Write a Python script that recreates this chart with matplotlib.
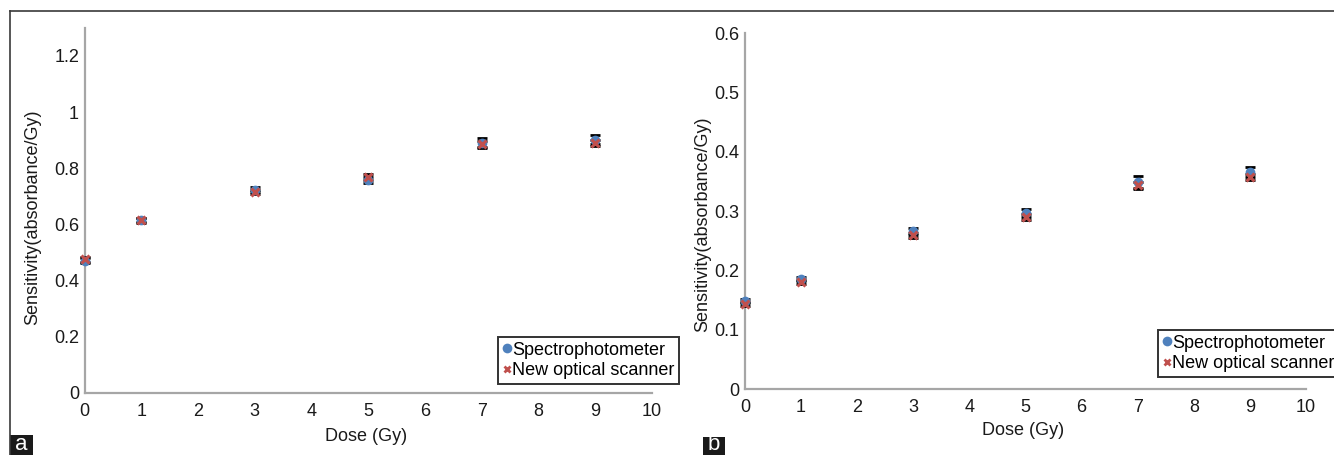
import matplotlib
matplotlib.use("Agg")
import matplotlib.pyplot as plt
from matplotlib.lines import Line2D
from matplotlib.patches import Rectangle

plt.rcParams['font.family'] = ['Liberation Sans', 'DejaVu Sans']

dose = [0, 1, 3, 5, 7, 9]

# Panel a
a_spec = [0.471, 0.614, 0.724, 0.757, 0.891, 0.901]
a_spec_err = [0.008, 0.008, 0.010, 0.010, 0.016, 0.016]
a_scan = [0.475, 0.615, 0.715, 0.768, 0.885, 0.890]
a_scan_err = [0.008, 0.008, 0.008, 0.010, 0.012, 0.010]
a_yticks = [0, 0.2, 0.4, 0.6, 0.8, 1.0, 1.2]
a_yticklabels = ['0', '0.2', '0.4', '0.6', '0.8', '1', '1.2']

# Panel b
b_spec = [0.148, 0.185, 0.266, 0.297, 0.349, 0.366]
b_spec_err = [0.003, 0.003, 0.006, 0.007, 0.010, 0.009]
b_scan = [0.143, 0.180, 0.259, 0.290, 0.343, 0.358]
b_scan_err = [0.003, 0.003, 0.004, 0.005, 0.006, 0.005]
b_yticks = [0, 0.1, 0.2, 0.3, 0.4, 0.5, 0.6]
b_yticklabels = ['0', '0.1', '0.2', '0.3', '0.4', '0.5', '0.6']

xticks = list(range(0, 11))
series_names = ['Spectrophotometer', 'New optical scanner']

BLUE = '#4F81BD'
RED = '#C0504D'
AXC = '#A6A6A6'
FS = 13

W, H = 1334, 455
fig = plt.figure(figsize=(W / 100, H / 100), dpi=100)


def panel(rect, spec, spec_err, scan, scan_err, ylim, yticks, yticklabels,
          ylab_xy, xlab_xy, leg_xy):
    ax = fig.add_axes(rect)
    ax.errorbar(dose, spec, yerr=spec_err, fmt='none', ecolor='black',
                elinewidth=1.2, capsize=3.5, capthick=2, clip_on=False, zorder=3)
    ax.errorbar(dose, scan, yerr=scan_err, fmt='none', ecolor='black',
                elinewidth=1.2, capsize=3.5, capthick=2, clip_on=False, zorder=3)
    ax.plot(dose, spec, 'o', color=BLUE, markersize=7, markeredgewidth=0,
            clip_on=False, zorder=4)
    ax.plot(dose, scan, 'x', color=RED, markersize=5.5, markeredgewidth=2.2,
            clip_on=False, zorder=5)
    ax.set_xlim(0, 10)
    ax.set_ylim(*ylim)
    ax.set_xticks(xticks)
    ax.set_yticks(yticks)
    ax.set_yticklabels(yticklabels)
    for s in ['top', 'right']:
        ax.spines[s].set_visible(False)
    for s in ['left', 'bottom']:
        ax.spines[s].set_color(AXC)
        ax.spines[s].set_linewidth(1.6)
    ax.tick_params(axis='both', length=0, labelsize=FS, colors='#1a1a1a')
    ax.tick_params(axis='x', pad=7.5)
    ax.tick_params(axis='y', pad=4)
    ax.set_ylabel('Sensitivity(absorbance/Gy)', fontsize=FS, color='#1a1a1a')
    ax.yaxis.set_label_coords(*ylab_xy)
    ax.set_xlabel('Dose (Gy)', fontsize=FS, color='#1a1a1a')
    ax.xaxis.set_label_coords(*xlab_xy)
    handles = [Line2D([], [], marker='o', ls='none', color=BLUE, markersize=7,
                      markeredgewidth=0),
               Line2D([], [], marker='x', ls='none', color=RED, markersize=5,
                      markeredgewidth=2)]
    leg = fig.legend(handles, series_names, loc='upper left',
                     bbox_to_anchor=leg_xy, bbox_transform=fig.transFigure,
                     fontsize=FS, frameon=True, fancybox=False,
                     handlelength=0.45, handletextpad=0.1, borderpad=0.25,
                     labelspacing=0.2, borderaxespad=0)
    fr = leg.get_frame()
    fr.set_edgecolor('black')
    fr.set_linewidth(1.4)
    return ax


panel([84.6 / W, 1 - 392.7 / H, (652 - 84.6) / W, (392.7 - 27.9) / H],
      a_spec, a_spec_err, a_scan, a_scan_err, (0, 1.3), a_yticks, a_yticklabels,
      (-0.077, 0.48), (0.496, -0.097), (498 / W, 1 - 337 / H))

panel([745 / W, 1 - 389 / H, (1306 - 745) / W, (389 - 33) / H],
      b_spec, b_spec_err, b_scan, b_scan_err, (0, 0.6), b_yticks, b_yticklabels,
      (-0.0595, 0.4635), (0.4955, -0.093), (1158 / W, 1 - 330 / H))

# Outer border lines (top and left)
fig.add_artist(Line2D([9.5 / W, 1], [1 - 10.7 / H, 1 - 10.7 / H],
                      transform=fig.transFigure, color='#3a3a3a', lw=1.2))
fig.add_artist(Line2D([9.5 / W, 9.5 / W], [0, 1 - 10.7 / H],
                      transform=fig.transFigure, color='#3a3a3a', lw=1.2))

# Panel letter boxes
for letter, x0, x1, y0 in [('a', 9.5, 32.5, 435), ('b', 702.5, 725, 437)]:
    fig.add_artist(Rectangle((x0 / W, 0), (x1 - x0) / W, (H - y0) / H,
                             transform=fig.transFigure, facecolor='#1a1a1a',
                             edgecolor='none'))
    fig.text((x0 + x1) / 2 / W, 0.5 / H, letter, color='white', fontsize=16,
             ha='center', va='bottom')

fig.savefig('out.png', dpi=100)
